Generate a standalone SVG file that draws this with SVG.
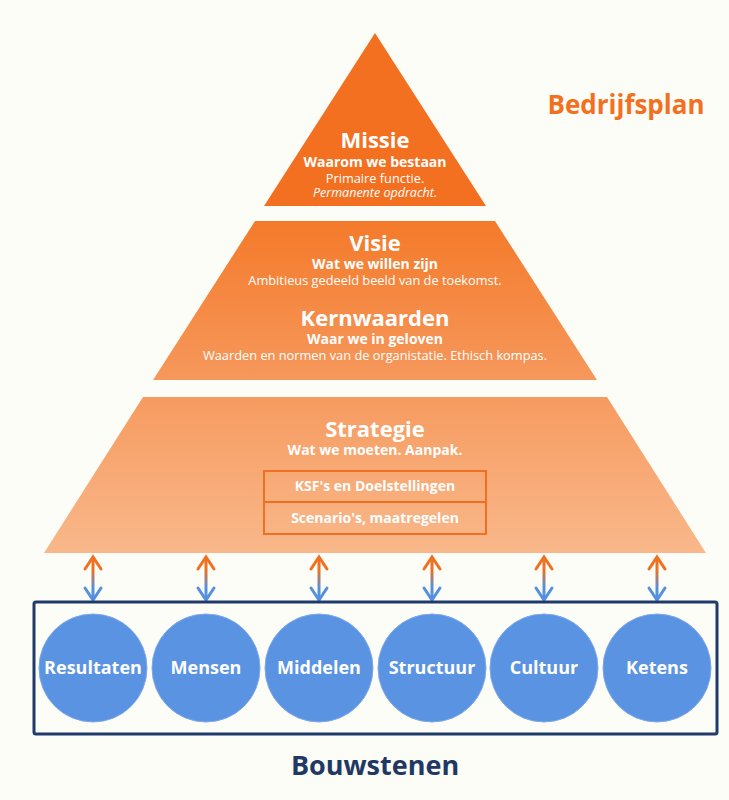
<svg xmlns="http://www.w3.org/2000/svg" width="729" height="800" viewBox="0 0 729 800">
<style>
text{font-family:"Open Sans","Noto Sans","DejaVu Sans",sans-serif;fill:#ffffff;text-anchor:middle}
.t{font-weight:bold;font-size:22px}
.s{font-weight:bold;font-size:14px}
.d{font-size:12.8px}
.i{font-size:12.5px;font-style:italic}
.k{font-weight:bold;font-size:14px}
.c{font-weight:bold;font-size:18px}
.circ{fill:#5B93E3;stroke:#7FA9EA;stroke-width:1}
.conn{stroke:url(#ag);stroke-width:3;fill:none;marker-start:url(#hO);marker-end:url(#hB)}
</style>
<defs>
<linearGradient id="g2" x1="0" y1="0" x2="0" y2="1"><stop offset="0" stop-color="#F47A2A"/><stop offset="1" stop-color="#F6985C"/></linearGradient>
<linearGradient id="g3" x1="0" y1="0" x2="0" y2="1"><stop offset="0" stop-color="#F69B60"/><stop offset="1" stop-color="#F9B88B"/></linearGradient>
<linearGradient id="ag" gradientUnits="userSpaceOnUse" x1="0" y1="570" x2="0" y2="588"><stop offset="0" stop-color="#F07021"/><stop offset="1" stop-color="#5590E0"/></linearGradient>
<marker id="hB" markerUnits="userSpaceOnUse" markerWidth="30" markerHeight="30" viewBox="-15 -15 30 30" refX="0" refY="0" orient="auto" overflow="visible"><path d="M-12,-8 L0,0 L-12,8" fill="none" stroke="#5590E0" stroke-width="3" stroke-linecap="round" stroke-linejoin="miter"/></marker>
<marker id="hO" markerUnits="userSpaceOnUse" markerWidth="30" markerHeight="30" viewBox="-15 -15 30 30" refX="0" refY="0" orient="auto-start-reverse" overflow="visible"><path d="M-12,-8 L0,0 L-12,8" fill="none" stroke="#F07021" stroke-width="3" stroke-linecap="round" stroke-linejoin="miter"/></marker>
</defs>
<rect x="0" y="0" width="729" height="800" fill="#FDFDF8"/>
<text x="626" y="114" style="font-weight:bold;font-size:26px;fill:#F37021">Bedrijfsplan</text>
<g id="missie">
<polygon points="375,33 486,206 264,206" fill="#F37021"/>
<text class="t" x="375" y="148">Missie</text>
<text class="s" x="375" y="167">Waarom we bestaan</text>
<text class="d" x="375" y="183">Primaire functie.</text>
<text class="i" x="375" y="197">Permanente opdracht.</text>
</g>
<g id="visie">
<polygon points="255,221 495,221 597,380 153,380" fill="url(#g2)"/>
<text class="t" x="375" y="251">Visie</text>
<text class="s" x="375" y="269">Wat we willen zijn</text>
<text class="d" x="375" y="285">Ambitieus gedeeld beeld van de toekomst.</text>
<text class="t" x="375" y="326">Kernwaarden</text>
<text class="s" x="375" y="344">Waar we in geloven</text>
<text class="d" x="375" y="360">Waarden en normen van de organistatie. Ethisch kompas.</text>
</g>
<g id="strategie">
<polygon points="143,397 607,397 706,553 44,553" fill="url(#g3)"/>
<text class="t" x="375" y="437">Strategie</text>
<text class="s" x="375" y="455">Wat we moeten. Aanpak.</text>
<rect x="264" y="471" width="222" height="31" fill="none" stroke="#F07021" stroke-width="2"/>
<rect x="264" y="502" width="222" height="32" fill="none" stroke="#F07021" stroke-width="2"/>
<text class="k" x="375" y="491">KSF's en Doelstellingen</text>
<text class="k" x="375" y="523">Scenario's, maatregelen</text>
</g>
<g id="connectors">
<path class="conn" d="M93,557 L93,600"/>
<path class="conn" d="M206,557 L206,600"/>
<path class="conn" d="M319,557 L319,600"/>
<path class="conn" d="M432,557 L432,600"/>
<path class="conn" d="M544,557 L544,600"/>
<path class="conn" d="M657,557 L657,600"/>
</g>
<g id="bouwstenen">
<rect x="34" y="602" width="683" height="132" rx="2" fill="none" stroke="#1F3A6B" stroke-width="3"/>
<text x="375" y="775" style="font-weight:bold;font-size:27px;fill:#1F3864">Bouwstenen</text>
</g>
<g id="resultaten"><circle class="circ" cx="93" cy="668" r="54"/><text class="c" x="93" y="674">Resultaten</text></g>
<g id="mensen"><circle class="circ" cx="206" cy="668" r="54"/><text class="c" x="206" y="674">Mensen</text></g>
<g id="middelen"><circle class="circ" cx="319" cy="668" r="54"/><text class="c" x="319" y="674">Middelen</text></g>
<g id="structuur"><circle class="circ" cx="432" cy="668" r="54"/><text class="c" x="432" y="674">Structuur</text></g>
<g id="cultuur"><circle class="circ" cx="544" cy="668" r="54"/><text class="c" x="544" y="674">Cultuur</text></g>
<g id="ketens"><circle class="circ" cx="657" cy="668" r="54"/><text class="c" x="657" y="674">Ketens</text></g>
</svg>
